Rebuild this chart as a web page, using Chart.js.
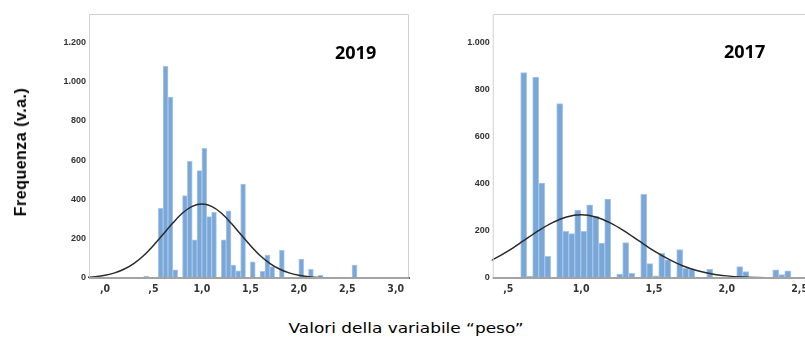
<!DOCTYPE html>
<html><head><meta charset="utf-8">
<script src="https://cdn.jsdelivr.net/npm/chart.js@4.4.1/dist/chart.umd.min.js"></script>
<style>
html,body{margin:0;padding:0;width:805px;height:343px;overflow:hidden;background:#fff;}
#wrap{position:relative;width:805px;height:343px;overflow:hidden;background:#fff;}
canvas{position:absolute;top:0;}
#c1{left:0;}
#c2{left:420px;}
.ytitle{position:absolute;left:21px;top:152px;transform:translate(-50%,-50%) rotate(-90deg);font:bold 16px "Liberation Sans",Arial,sans-serif;line-height:16px;letter-spacing:0.5px;white-space:nowrap;color:#000;}
.xtitle{position:absolute;left:406px;top:328px;transform:translate(-50%,-50%) scaleX(1.21);font:14px "DejaVu Sans",sans-serif;line-height:14px;white-space:nowrap;color:#000;}
.yr{position:absolute;font:bold 18px "Open Sans",sans-serif;line-height:18px;white-space:nowrap;color:#000;}
</style></head>
<body>
<div id="wrap">
<canvas id="c1" width="420" height="300"></canvas>
<canvas id="c2" width="420" height="300"></canvas>
<div class="ytitle">Frequenza (v.a.)</div>
<div class="xtitle">Valori della variabile “peso”</div>
<div class="yr" style="left:335px;top:43px;">2019</div>
<div class="yr" style="left:724px;top:42px;">2017</div>
</div>
<script>
// ---- 2019 histogram (bin width 0.05, first bin starts at 0.00) ----
const binStart2019 = 0.00;
const binWidth2019 = 0.05;
const counts2019 = [5,0,0,0,0,0,0,0,10,0,0,355,1078,922,41,0,420,595,194,547,660,313,335,0,194,342,66,36,478,0,82,0,34,117,58,0,141,0,0,0,97,0,44,0,14,0,0,0,0,0,0,66];
const curveX2019 = [-0.2,-0.1,0.0,0.1,0.2,0.3,0.4,0.5,0.6,0.7,0.8,0.9,1.0,1.1,1.2,1.3,1.4,1.5,1.6,1.7,1.8,1.9,2.0,2.1,2.2,2.3,2.4,2.5,2.6,2.7,2.8,2.9,3.0,3.1,3.2];
const curveY2019 = [3,7,14,26,46,75,115,166,223,280,331,365,377,365,331,280,223,166,115,75,46,26,14,7,3,1,1,0,0,0,0,0,0,0,0];
const xTickVals2019 = [0,0.5,1,1.5,2,2.5,3];
const xTickLabels2019 = [',0',',5','1,0','1,5','2,0','2,5','3,0'];
const yTickVals2019 = [0,200,400,600,800,1000,1200];
const yTickLabels2019 = ['0','200','400','600','800','1.000','1.200'];

// ---- 2017 histogram ----
const binStart2017 = 0.585;
const binWidth2017 = 0.0412;
const counts2017 = [872,8,852,403,92,0,740,198,188,288,198,310,262,148,335,0,17,150,20,0,355,61,9,105,77,0,121,41,38,0,0,37,0,0,0,0,48,27,0,0,0,0,35,14,30];
const curveX2017 = [0.3,0.4,0.5,0.6,0.7,0.8,0.9,1.0,1.1,1.2,1.3,1.4,1.5,1.6,1.7,1.8,1.9,2.0,2.1,2.2,2.3,2.4,2.5,2.6,2.7];
const curveY2017 = [51,80,115,156,198,234,259,268,259,234,198,156,115,80,51,31,17,9,4,2,1,0,0,0,0];
const xTickVals2017 = [0.5,1,1.5,2,2.5];
const xTickLabels2017 = [',5','1,0','1,5','2,0','2,5'];
const yTickVals2017 = [0,200,400,600,800,1000];
const yTickLabels2017 = ['0','200','400','600','800','1.000'];

const framePlugin = {
  id: 'frame',
  afterDatasetsDraw(chart) {
    const {ctx, chartArea: a} = chart;
    ctx.save();
    ctx.strokeStyle = '#d0d0d0'; ctx.lineWidth = 1;
    ctx.beginPath();
    ctx.moveTo(a.left + 0.5, a.bottom);
    ctx.lineTo(a.left + 0.5, a.top + 0.5);
    ctx.lineTo(a.right - 0.5, a.top + 0.5);
    ctx.lineTo(a.right - 0.5, a.bottom);
    ctx.stroke();
    ctx.strokeStyle = '#a3a3a3'; ctx.lineWidth = 2;
    ctx.beginPath(); ctx.moveTo(a.left, a.bottom); ctx.lineTo(a.right, a.bottom); ctx.stroke();
    ctx.restore();
  }
};

function makeChart(id, cfg) {
  const barData = cfg.counts.map((c, i) => ({x: cfg.binStart + (i + 0.5) * cfg.binWidth, y: c}));
  const lineData = cfg.curveX.map((x, i) => ({x: x, y: cfg.curveY[i]}));
  return new Chart(document.getElementById(id), {
    type: 'bar',
    data: {
      datasets: [
        {type: 'line', data: lineData, borderColor: '#2a2a2a', borderWidth: 1.5, pointRadius: 0, fill: false, cubicInterpolationMode: 'monotone', order: 0, clip: 1},
        {type: 'bar', data: barData, backgroundColor: '#79a7d8', borderColor: '#a8c6e8', borderWidth: 1, borderSkipped: 'bottom', barPercentage: 1, categoryPercentage: 1, order: 1}
      ]
    },
    options: {
      responsive: false,
      animation: false,
      devicePixelRatio: 1,
      layout: {padding: cfg.padding},
      plugins: {legend: {display: false}, tooltip: {enabled: false}},
      scales: {
        x: {
          type: 'linear', min: cfg.xMin, max: cfg.xMax, offset: false,
          grid: {display: false, drawTicks: false, offset: false},
          border: {display: false},
          afterFit: s => { s.height = 22; },
          afterBuildTicks: s => { s.ticks = cfg.xTickVals.map(v => ({value: v})); },
          ticks: {
            autoSkip: false, maxRotation: 0, padding: 5, color: '#333',
            font: {family: '"DejaVu Sans Condensed", "DejaVu Sans", sans-serif', size: 10.5, weight: 'bold'},
            callback: v => cfg.xTickLabels[cfg.xTickVals.indexOf(v)]
          }
        },
        y: {
          type: 'linear', min: 0, max: cfg.yMax,
          grid: {display: false, drawTicks: false},
          border: {display: false},
          afterFit: s => { s.width = cfg.yWidth; },
          afterBuildTicks: s => { s.ticks = cfg.yTickVals.map(v => ({value: v})); },
          ticks: {
            padding: 3, color: '#333',
            font: {family: '"Liberation Sans", Arial, sans-serif', size: 9, weight: 'bold'},
            callback: v => cfg.yTickLabels[cfg.yTickVals.indexOf(v)]
          }
        }
      }
    },
    plugins: [framePlugin]
  });
}

makeChart('c1', {
  counts: counts2019, binStart: binStart2019, binWidth: binWidth2019,
  curveX: curveX2019, curveY: curveY2019,
  xTickVals: xTickVals2019, xTickLabels: xTickLabels2019,
  yTickVals: yTickVals2019, yTickLabels: yTickLabels2019,
  xMin: -0.165, xMax: 3.137, yMax: 1345,
  padding: {left: 40, top: 14, right: 11, bottom: 0}, yWidth: 49
});
makeChart('c2', {
  counts: counts2017, binStart: binStart2017, binWidth: binWidth2017,
  curveX: curveX2017, curveY: curveY2017,
  xTickVals: xTickVals2017, xTickLabels: xTickLabels2017,
  yTickVals: yTickVals2017, yTickLabels: yTickLabels2017,
  xMin: 0.393, xMax: 2.65, yMax: 1120,
  padding: {left: 24, top: 14, right: 18.5, bottom: 0}, yWidth: 48.7
});
</script>
</body></html>
